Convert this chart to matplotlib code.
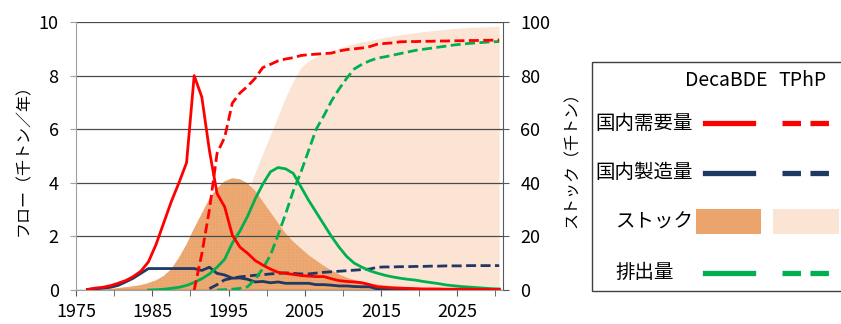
import numpy as np
import matplotlib
matplotlib.use("Agg")
import matplotlib.pyplot as plt
from matplotlib.patches import Rectangle
from matplotlib.lines import Line2D

plt.rcParams['font.family'] = ['Noto Sans CJK JP', 'DejaVu Sans']
plt.rcParams['hatch.linewidth'] = 0.3

# annual series, each given as (first year, values up to 2030)
deca_demand_start = 1976
deca_demand = [0.02, 0.07, 0.10, 0.16, 0.25,
               0.35, 0.50, 0.70, 1.05, 1.70,
               2.50, 3.30, 4.00, 4.75, 8.00,
               7.20, 5.20, 3.60, 3.10, 2.05,
               1.60, 1.37, 1.10, 0.93, 0.78,
               0.66, 0.62, 0.58, 0.54, 0.52,
               0.50, 0.50, 0.42, 0.35, 0.32,
               0.30, 0.27, 0.20, 0.12, 0.10,
               0.08, 0.07, 0.06, 0.05, 0.04,
               0.04, 0.04, 0.03, 0.03, 0.03,
               0.03, 0.02, 0.02, 0.02, 0.02]

tphp_demand_start = 1990
tphp_demand = [0.00, 1.35, 3.00, 5.10, 5.70,
               6.97, 7.35, 7.60, 7.90, 8.30,
               8.42, 8.55, 8.62, 8.67, 8.75,
               8.78, 8.80, 8.82, 8.84, 8.92,
               8.97, 9.00, 9.03, 9.08, 9.17,
               9.20, 9.22, 9.26, 9.27, 9.27,
               9.28, 9.28, 9.29, 9.29, 9.30,
               9.30, 9.31, 9.31, 9.32, 9.32,
               9.33]

deca_prod_start = 1976
deca_prod = [0.02, 0.04, 0.07, 0.10, 0.17,
             0.30, 0.44, 0.62, 0.80, 0.80,
             0.80, 0.80, 0.80, 0.80, 0.80,
             0.73, 0.85, 0.62, 0.56, 0.44,
             0.45, 0.40, 0.30, 0.32, 0.27,
             0.30, 0.25, 0.25, 0.25, 0.25,
             0.20, 0.20, 0.18, 0.15, 0.15,
             0.13, 0.12, 0.12, 0.04, 0.03,
             0.03, 0.03, 0.02, 0.02, 0.02,
             0.02, 0.02, 0.02, 0.01, 0.01,
             0.01, 0.01, 0.01, 0.01, 0.01]

tphp_prod_start = 1992
tphp_prod = [0.05, 0.20, 0.38, 0.44,
             0.49, 0.52, 0.55, 0.57, 0.60,
             0.62, 0.64, 0.62, 0.60, 0.60,
             0.63, 0.66, 0.68, 0.70, 0.72,
             0.74, 0.76, 0.78, 0.85, 0.86,
             0.86, 0.87, 0.87, 0.88, 0.88,
             0.89, 0.89, 0.90, 0.90, 0.90,
             0.91, 0.91, 0.91, 0.91, 0.91]

deca_emis_start = 1984
deca_emis = [0.00,
             0.01, 0.03, 0.06, 0.10, 0.17,
             0.28, 0.42, 0.60, 0.85, 1.15,
             1.75, 2.20, 2.75, 3.40, 3.95,
             4.41, 4.57, 4.52, 4.35, 3.85,
             3.35, 2.90, 2.45, 2.00, 1.60,
             1.25, 1.00, 0.85, 0.72, 0.63,
             0.55, 0.49, 0.44, 0.40, 0.37,
             0.32, 0.28, 0.24, 0.19, 0.16,
             0.13, 0.11, 0.09, 0.07, 0.05,
             0.04]

tphp_emis_start = 1993
tphp_emis = [0.00, 0.01,
             0.03, 0.06, 0.12, 0.40, 0.80,
             1.30, 2.05, 2.85, 3.70, 4.40,
             5.20, 6.00, 6.50, 7.05, 7.50,
             7.90, 8.25, 8.42, 8.55, 8.65,
             8.70, 8.76, 8.82, 8.88, 8.94,
             8.98, 9.02, 9.06, 9.10, 9.14,
             9.17, 9.20, 9.22, 9.24, 9.26,
             9.27]

deca_stock_start = 1976
deca_stock = [0.0, 0.1, 0.2, 0.4, 0.7,
              1.0, 1.4, 1.8, 2.6, 3.6,
              5.2, 7.8, 12.0, 17.0, 23.0,
              28.5, 34.0, 38.0, 40.5, 41.7,
              41.3, 39.8, 37.0, 33.0, 29.0,
              25.0, 21.0, 18.0, 15.5, 13.0,
              11.0, 9.0, 7.3, 5.8, 4.6,
              3.7, 3.0, 2.4, 2.0, 1.7,
              1.4, 1.2, 1.0, 0.85, 0.7,
              0.6, 0.5, 0.4, 0.3, 0.25,
              0.2, 0.15, 0.1, 0.05, 0.0]

tphp_stock_start = 1990
tphp_stock = [0.0, 1.0, 3.0, 7.0, 12.0,
              19.0, 27.0, 36.0, 44.0, 51.0,
              58.0, 65.0, 72.0, 78.0, 83.0,
              85.5, 87.0, 88.2, 89.2, 90.2,
              91.2, 92.0, 92.6, 93.1, 93.7,
              94.3, 94.8, 95.2, 95.6, 96.0,
              96.4, 96.7, 97.0, 97.3, 97.6,
              97.8, 98.0, 98.1, 98.2, 98.3,
              98.4]

legend_rows = ['国内需要量', '国内製造量', 'ストック', '排出量']
legend_cols = ['DecaBDE', 'TPhP']
flow_label = 'フロー（千トン／年）'
stock_label = 'ストック（千トン）'

RED = '#FF0000'
NAVY = '#1F3864'
GREEN = '#00B050'
ORANGE = '#EBA56C'
PEACH = '#FCE4D4'


def xs(start, vals):
    # points sit in the middle of each year category
    return np.arange(start, start + len(vals)) + 0.5


W, H = 841, 324
fig = plt.figure(figsize=(W / 100, H / 100), dpi=100)
x0, x1, ytop, ybot = 76, 503, 22, 290
rect = [x0 / W, 1 - ybot / H, (x1 - x0) / W, (ybot - ytop) / H]

ax_s = fig.add_axes(rect)            # stock, right axis, drawn first
ax_f = ax_s.twinx()                  # flow lines on top
ax_f.patch.set_visible(False)

ax_s.fill_between(xs(tphp_stock_start, tphp_stock), tphp_stock, 0,
                  color=PEACH, lw=0, zorder=1)
ax_s.fill_between(xs(deca_stock_start, deca_stock), deca_stock, 0,
                  facecolor=ORANGE, edgecolor='#EEAE7C', hatch='++++++',
                  lw=0, zorder=1.2)

ax_s.set_ylim(0, 100)
ax_s.set_yticks(np.arange(0, 101, 20))
ax_s.set_xlim(1975, 2031)
ax_s.set_axisbelow(False)
ax_s.grid(axis='y', color='#4a4a4a', lw=0.9, zorder=2)
ax_s.yaxis.tick_right()
ax_s.yaxis.set_label_position('right')
ax_s.set_ylabel(stock_label, fontsize=11.5, labelpad=10)

dash = (3.6, 1.6)
ax_f.plot(xs(deca_prod_start, deca_prod), deca_prod, color=NAVY, lw=2.0, zorder=3)
ax_f.plot(xs(tphp_prod_start, tphp_prod), tphp_prod, color=NAVY, lw=2.0,
          ls=(0, dash), zorder=3)
ax_f.plot(xs(deca_emis_start, deca_emis), deca_emis, color=GREEN, lw=2.0, zorder=4)
ax_f.plot(xs(tphp_emis_start, tphp_emis), tphp_emis, color=GREEN, lw=2.0,
          ls=(0, dash), zorder=4)
ax_f.plot(xs(deca_demand_start, deca_demand), deca_demand, color=RED, lw=2.0, zorder=5)
ax_f.plot(xs(tphp_demand_start, tphp_demand), tphp_demand, color=RED, lw=2.0,
          ls=(0, dash), zorder=5)

ax_f.set_ylim(0, 10)
ax_f.set_yticks(np.arange(0, 11, 2))
ax_f.yaxis.tick_left()
ax_f.yaxis.set_label_position('left')
ax_f.set_ylabel(flow_label, fontsize=11.5, labelpad=5)

ax_s.set_xticks(np.arange(1975, 2031, 10))
ax_s.set_xticks(np.arange(1980, 2031, 10), minor=True)

for a in (ax_s, ax_f):
    a.spines['top'].set_visible(False)
ax_s.spines['left'].set_visible(False)
ax_f.spines['right'].set_visible(False)
ax_f.spines['bottom'].set_visible(False)
ax_s.spines['right'].set_color('#595959')
ax_f.spines['left'].set_color('#a0a0a0')
ax_s.spines['bottom'].set_color('#a0a0a0')

ax_s.tick_params(axis='y', labelsize=13, length=4.5, pad=8, color='#595959')
ax_f.tick_params(axis='y', labelsize=13, length=4.5, pad=8, color='#a0a0a0')
ax_s.tick_params(axis='x', which='both', labelsize=13, length=4.5, pad=5,
                 color='#595959')

# legend panel, laid out in pixel units
lg = fig.add_axes([0, 0, 1, 1])
lg.set_xlim(0, W)
lg.set_ylim(H, 0)
lg.axis('off')
lg.patch.set_visible(False)
lg.add_patch(Rectangle((592, 62), 260, 229, fill=False, ec='#404040', lw=1.0))
lg.text(726, 80, legend_cols[0], fontsize=14, ha='center', va='center')
lg.text(803, 80, legend_cols[1], fontsize=14, ha='center', va='center')

row_y = [123, 173, 222, 273]
row_x = [595, 595, 615, 615]
row_color = [RED, NAVY, None, GREEN]
for lab, yy, xx, c in zip(legend_rows, row_y, row_x, row_color):
    lg.text(xx, yy, lab, fontsize=14, ha='left', va='center')
    if c is None:
        lg.add_patch(Rectangle((696, yy - 13), 65, 25, color=ORANGE, lw=0))
        lg.add_patch(Rectangle((773, yy - 13), 66, 25, color=PEACH, lw=0))
    else:
        lg.add_line(Line2D([705, 753], [yy, yy], color=c, lw=3.8))
        lg.add_line(Line2D([782, 829], [yy, yy], color=c, lw=3.8,
                           ls=(0, (3.5, 1.8))))

fig.savefig('out.png', dpi=100)
